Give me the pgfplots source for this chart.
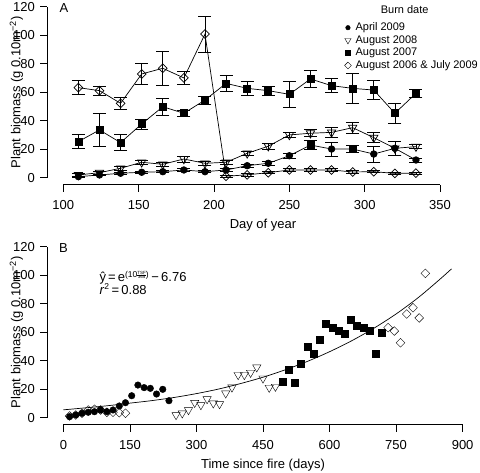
\documentclass[border=0pt]{standalone}
\usepackage{fontspec}
\setmainfont{Liberation Sans}
\usepackage{pgfplots}
\usepackage{pgfplotstable}
\pgfplotsset{compat=1.18}

\newcommand{\minifrac}[2]{\raisebox{-1.2pt}{\fontsize{4.5}{5}\selectfont\vbox{\halign{\hfil##\hfil\cr #1\cr\noalign{\kern0.3pt\hrule height 0.3pt\kern0.5pt}#2\cr}}}}

% ---- Panel A data (day of year, biomass, s.e.) ----
\pgfplotstableread{
d v e
110 0.7 0.5
124 1.9 0.5
138 3.1 0.7
152 3.8 0.7
166 4.2 0.8
180 5.4 0.8
194 4.2 0.8
208 5.4 1.0
222 8.4 1.2
236 10.1 1.5
250 15.4 1.5
264 22.9 3.0
278 20.1 5.0
292 20.1 2.5
306 16.6 5.5
320 20.6 5.0
334 12.4 1.5
}\Aapr
\pgfplotstableread{
d v
264 22.9
292 20.1
}\Aaprsq
\pgfplotstableread{
d v e
110 1.9 1.0
124 3.5 1.0
138 6.6 1.2
152 10.8 1.5
166 9.4 1.2
180 13.1 2.0
194 10.1 1.5
208 10.8 1.5
222 17.1 1.5
236 22.1 2.0
250 30.0 2.0
264 31.2 2.5
278 31.8 3.5
292 35.1 4.0
306 28.1 3.5
320 20.6 5.0
334 21.8 1.5
}\Aaugeight
\pgfplotstableread{
d v e
110 25.3 4.9
124 33.5 11.7
138 24.6 5.5
152 37.7 3.5
166 49.8 5.7
180 45.2 2.1
194 54.5 2.8
208 66.2 5.9
222 62.7 4.7
236 61.1 3.0
250 58.5 9.2
264 69.3 6.2
278 64.6 5.0
292 62.7 10.7
306 61.5 6.8
320 45.2 7.1
334 59.2 3.0
}\Aaugseven
\pgfplotstableread{
d v e
110 63.2 5.0
124 61.1 3.2
138 52.2 4.4
152 72.8 7.2
166 76.8 11.8
180 70.0 4.3
194 100.8 12.6
208 1.0 0.8
222 2.0 0.8
236 3.5 0.8
250 5.4 0.8
264 5.4 0.8
278 5.4 0.8
292 4.0 0.8
306 4.2 0.8
320 3.0 0.8
334 3.2 0.8
}\Aaugsix

% ---- Panel B data (time since fire, biomass) ----
\pgfplotstableread{
t v
14 1.2
28 1.9
42 3.1
56 5.4
70 5.9
84 5.4
98 3.8
112 3.8
126 3.5
140 3.1
732 63.2
746 60.8
760 52.6
774 72.8
788 77.2
802 70.0
816 101.3
}\Bdia
\pgfplotstableread{
t v
14 0.7
28 1.9
42 3.1
56 3.8
70 4.2
84 5.4
98 4.2
112 5.4
126 8.2
140 10.5
154 15.4
168 22.9
182 21.1
196 20.6
210 16.6
224 19.9
238 11.9
}\Bcirc
\pgfplotstableread{
t v
254 1.9
268 3.1
282 5.4
296 10.5
310 8.9
324 13.1
338 10.1
352 9.6
366 17.1
380 21.3
394 30.0
408 30.0
422 31.6
436 35.4
450 27.6
464 21.1
478 21.8
}\Btri
\pgfplotstableread{
t v
494 25.1
508 33.5
522 24.6
536 37.9
550 50.1
564 45.2
578 54.5
592 66.2
606 62.9
620 60.8
634 58.7
648 69.1
662 64.6
676 62.9
690 61.3
704 44.7
718 59.6
}\Bsq
\pgfplotstableread{
t v
0 5.5
50 6.9
100 8.4
150 10.2
200 12.0
250 14.2
300 16.9
350 20.1
400 24.0
450 28.4
500 33.6
550 39.5
600 46.3
650 54.0
700 62.8
750 72.8
800 84.3
850 97.5
875 104.5
}\Bfit

\pgfplotsset{
  biom/.style={
    scale only axis, width=431.2pt, height=184.6pt,
    ymin=-4.8, ymax=124.8,
    ytick={0,20,...,120},
    axis x line*=bottom, axis y line*=left,
    axis line style={draw=none},
    tick align=outside,
    major tick length=7pt,
    every tick/.style={black, line width=0.7pt},
    /pgf/number format/assume math mode=true,
    /pgf/number format/1000 sep={},
    yticklabel style={anchor=east, xshift=-2pt},
    xticklabel style={anchor=base, yshift=-17.5pt},
    ylabel style={at={(axis description cs:-0.0624,0.5)}, anchor=base},
    xlabel style={at={(axis description cs:0.5,-0.2383)}, anchor=base},
    ylabel={Plant biomass (g 0.10m\textsuperscript{−2})},
    clip=false,
  },
  ebar/.style={
    error bars/.cd, y dir=both, y explicit,
    error bar style={line width=0.7pt, solid, black},
    error mark options={black, mark size=6.5pt, line width=0.7pt, rotate=90},
  },
}

\begin{document}
\begin{tikzpicture}[font=\fontsize{13}{15}\selectfont]
\useasboundingbox (0,0) rectangle (480pt,-472pt);

% ================= Panel A =================
\begin{axis}[biom, at={(47.4pt,-184.5pt)}, anchor=south west,
  xmin=89.44, xmax=375.56, xtick={100,150,...,350},
  xlabel={Day of year},
  legend style={draw=none, fill=none, at={(axis cs:284.5,111)}, anchor=north west,
    font=\fontsize{11}{13}\selectfont, row sep=0.9pt,
    nodes={inner sep=1.2pt},
    /tikz/every odd column/.append style={column sep=3pt}},
  legend cell align=left,
  legend image code/.code={\draw[#1] plot coordinates {(0pt,0pt)};},
]
\draw[line width=0.7pt] (axis cs:100,-4.8) -- (axis cs:350,-4.8);
\draw[line width=0.7pt] (axis cs:89.44,0) -- (axis cs:89.44,120);

\addplot[forget plot, black, line width=0.7pt, mark=*, mark size=3.3pt, ebar]
  table[x=d, y=v, y error=e] {\Aapr};
\addplot[forget plot, only marks, black, mark=square*, mark size=3.5pt]
  table[x=d, y=v] {\Aaprsq};
\addplot[forget plot, black, line width=0.7pt, mark=triangle, mark size=4.8pt,
  mark options={rotate=180, fill=white, solid}, ebar]
  table[x=d, y=v, y error=e] {\Aaugeight};
\addplot[forget plot, black, line width=0.7pt, mark=square*, mark size=3.5pt, ebar]
  table[x=d, y=v, y error=e] {\Aaugseven};
\addplot[forget plot, black, line width=0.7pt, mark=square, mark size=3.1pt,
  mark options={rotate=45, fill=white, solid}, ebar]
  table[x=d, y=v, y error=e] {\Aaugsix};

\addlegendimage{only marks, black, mark=*, mark size=2.3pt}
\addlegendentry{April 2009}
\addlegendimage{only marks, black, mark=triangle, mark size=3.6pt, mark options={rotate=180}}
\addlegendentry{August 2008}
\addlegendimage{only marks, black, mark=square*, mark size=2.3pt}
\addlegendentry{August 2007}
\addlegendimage{only marks, black, mark=square, mark size=2.4pt, mark options={rotate=45}}
\addlegendentry{August 2006 \& July 2009}

\node[font=\fontsize{11}{13}\selectfont] at (axis cs:326.5,117.7) {Burn date};
\node at (axis cs:100.4,119.4) {A};
\end{axis}

% ================= Panel B =================
\begin{axis}[biom, at={(47.4pt,-424.5pt)}, anchor=south west,
  xmin=-36, xmax=936, xtick={0,150,...,900},
  xlabel={Time since fire (days)},
]
\draw[line width=0.7pt] (axis cs:0,-4.8) -- (axis cs:900,-4.8);
\draw[line width=0.7pt] (axis cs:-36,0) -- (axis cs:-36,120);

\addplot[black, line width=0.7pt, smooth, no marks] table[x=t, y=v] {\Bfit};
\addplot[only marks, black, mark=square, mark size=3.1pt, mark options={rotate=45}]
  table[x=t, y=v] {\Bdia};
\addplot[only marks, black, mark=*, mark size=3.3pt] table[x=t, y=v] {\Bcirc};
\addplot[only marks, black, mark=triangle, mark size=4.8pt, mark options={rotate=180}]
  table[x=t, y=v] {\Btri};
\addplot[only marks, black, mark=square*, mark size=3.5pt] table[x=t, y=v] {\Bsq};

\node at (axis cs:0,119.4) {B};
\node[anchor=base west] at (axis cs:73.5,95.4)
  {ŷ\,=\,e\textsuperscript{\fontsize{8.5}{9}\selectfont(10\minifrac{TSF}{365})}\,−\,6.76};
\node[anchor=base west] at (axis cs:73.5,86.6)
  {\textit{r}\textsuperscript{\fontsize{8.5}{9}\selectfont 2}\,=\,0.88};
\end{axis}
\end{tikzpicture}
\end{document}
